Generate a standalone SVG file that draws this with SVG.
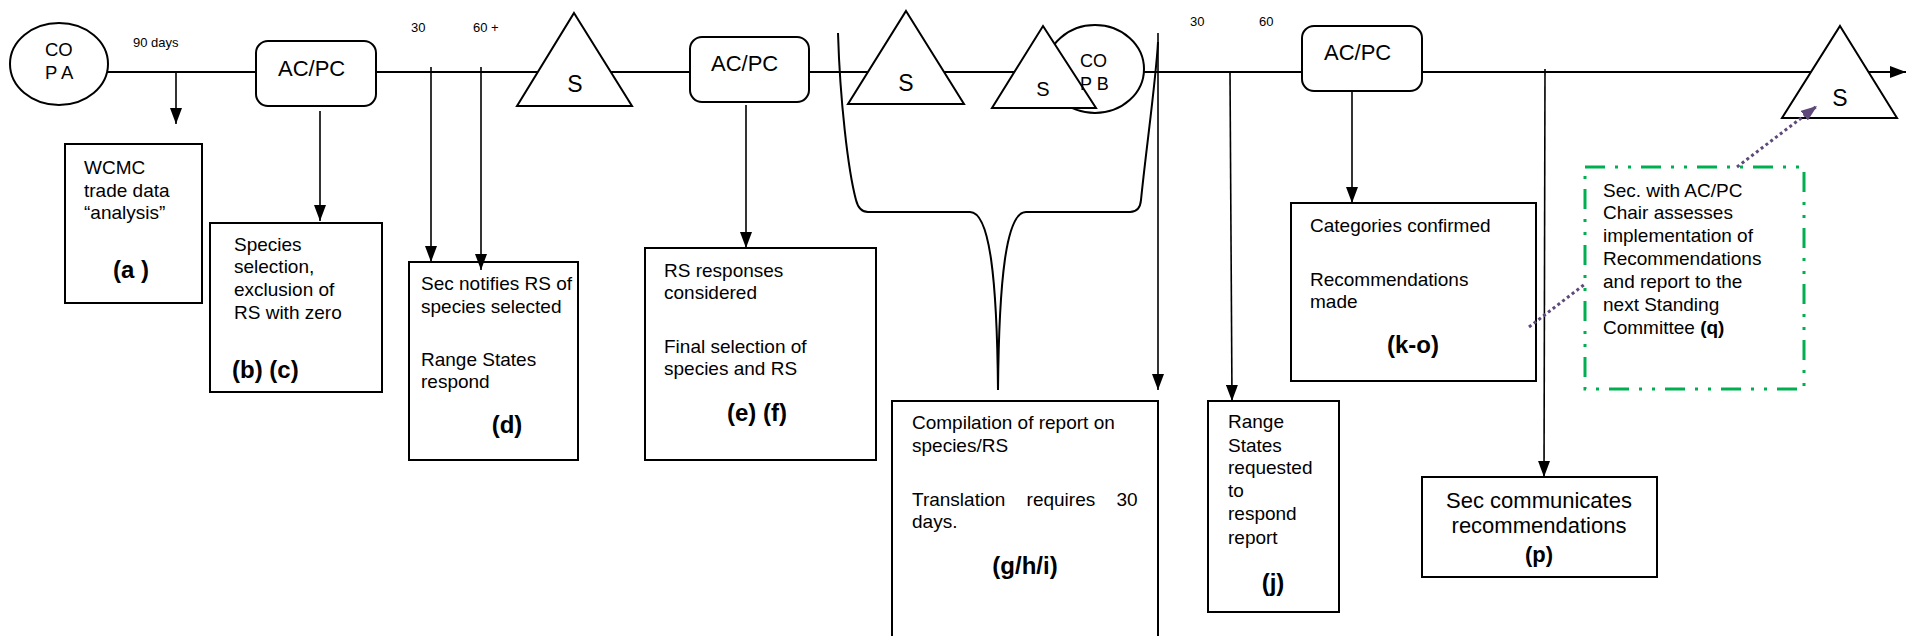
<svg xmlns="http://www.w3.org/2000/svg" width="1908" height="636" viewBox="0 0 1908 636">
<defs>
<marker id="ah" viewBox="0 0 16 12" markerWidth="16" markerHeight="12" refX="16" refY="6" orient="auto" markerUnits="userSpaceOnUse"><path d="M0,0 L16,6 L0,12 z" fill="#000"/></marker>
<marker id="ahp" viewBox="0 0 16 12" markerWidth="16" markerHeight="12" refX="16" refY="6" orient="auto" markerUnits="userSpaceOnUse"><path d="M0,0 L16,6 L0,12 z" fill="#5F497A"/></marker>
<style>
text{font-family:"Liberation Sans",Arial,sans-serif;fill:#000}
.box{fill:#fff;stroke:#000;stroke-width:2}
.t{font-size:19px}
.b{font-size:24px;font-weight:bold}
.sm{font-size:13px}
.ac{font-size:22px}
.s{font-size:23px;text-anchor:middle}
.c{stroke:#000;stroke-width:1.6;fill:none}
.main{stroke:#000;stroke-width:2;fill:none}
.mid{text-anchor:middle}
.pur{stroke:#5F497A;stroke-width:3;stroke-dasharray:3 3;fill:none}
.grn{fill:#fff;stroke:#00B050;stroke-width:3;stroke-dasharray:20 10 3 10 3 10}
</style>
</defs>
<rect width="1908" height="636" fill="#fff"/>

<g id="copA">
<ellipse class="box" cx="59" cy="64" rx="49" ry="41"/>
<text class="t" style="font-size:18.5px" x="45" y="56">CO</text>
<text class="t" style="font-size:18.5px" x="45" y="79">P A</text>
</g>
<g id="wcmc">
<rect class="box" x="65" y="144" width="137" height="159"/>
<text class="t" x="84" y="174">WCMC</text>
<text class="t" x="84" y="197">trade data</text>
<text class="t" x="84" y="219">“analysis”</text>
<text class="b" x="113" y="278">(a )</text>
</g>
<g id="acpc1">
<rect class="box" x="256" y="41" width="120" height="65" rx="12"/>
<text class="ac" x="278" y="76">AC/PC</text>
</g>
<g id="species">
<rect class="box" x="210" y="223" width="172" height="169"/>
<text class="t" x="234" y="251">Species</text>
<text class="t" x="234" y="273">selection,</text>
<text class="t" x="234" y="296">exclusion of</text>
<text class="t" x="234" y="319">RS with zero</text>
<text class="b" x="232" y="378">(b) (c)</text>
</g>
<g id="secNotifies">
<rect class="box" x="409" y="262" width="169" height="198"/>
<text class="t" x="421" y="290">Sec notifies RS of</text>
<text class="t" x="421" y="313">species selected</text>
<text class="t" x="421" y="366">Range States</text>
<text class="t" x="421" y="388">respond</text>
<text class="b mid" x="507" y="433">(d)</text>
</g>
<g id="s1">
<polygon class="box" points="574,13 632,106 517,106"/>
<text class="s" x="575" y="92">S</text>
</g>
<g id="acpc2">
<rect class="box" x="690" y="37" width="119" height="65" rx="12"/>
<text class="ac" x="711" y="71">AC/PC</text>
</g>
<g id="rsResponses">
<rect class="box" x="645" y="248" width="231" height="212"/>
<text class="t" x="664" y="277">RS responses</text>
<text class="t" x="664" y="299">considered</text>
<text class="t" x="664" y="353">Final selection of</text>
<text class="t" x="664" y="375">species and RS</text>
<text class="b" x="727" y="421">(e) (f)</text>
</g>
<g id="s2">
<polygon class="box" points="906,11 964,104 848,104"/>
<text class="s" x="906" y="91">S</text>
</g>
<g id="copB">
<ellipse class="box" cx="1095" cy="69" rx="49" ry="44"/>
<polygon class="box" points="1043,26 1096,108 992,108"/>
<text class="s" style="font-size:20px" x="1043" y="96">S</text>
<text class="t" style="font-size:18px" x="1080" y="67">CO</text>
<text class="t" style="font-size:18px" x="1080" y="90">P B</text>
</g>
<g id="compilation">
<rect class="box" x="892" y="401" width="266" height="245"/>
<text class="t" x="912" y="429">Compilation of report on</text>
<text class="t" x="912" y="452">species/RS</text>
<text class="t" x="912" y="506" word-spacing="16">Translation requires 30</text>
<text class="t" x="912" y="528">days.</text>
<text class="b mid" x="1025" y="574">(g/h/i)</text>
</g>
<g id="rangeStates">
<rect class="box" x="1208" y="401" width="131" height="211"/>
<text class="t" x="1228" y="428">Range</text>
<text class="t" x="1228" y="452">States</text>
<text class="t" x="1228" y="474">requested</text>
<text class="t" x="1228" y="497">to</text>
<text class="t" x="1228" y="520">respond</text>
<text class="t" x="1228" y="544">report</text>
<text class="b mid" x="1273" y="591">(j)</text>
</g>
<g id="acpc3">
<rect class="box" x="1302" y="26" width="120" height="65" rx="12"/>
<text class="ac" x="1324" y="60">AC/PC</text>
</g>
<g id="categories">
<rect class="box" x="1291" y="203" width="245" height="178"/>
<text class="t" x="1310" y="232">Categories confirmed</text>
<text class="t" x="1310" y="286">Recommendations</text>
<text class="t" x="1310" y="308">made</text>
<text class="b mid" x="1413" y="353">(k-o)</text>
</g>
<g id="secCommunicates">
<rect class="box" x="1422" y="477" width="235" height="100"/>
<text class="t mid" style="font-size:22px" x="1539" y="508">Sec communicates</text>
<text class="t mid" style="font-size:22px" x="1539" y="533">recommendations</text>
<text class="b mid" style="font-size:22px" x="1539" y="562">(p)</text>
</g>
<g id="secAssesses">
<rect class="grn" x="1585" y="167" width="219" height="222"/>
<text class="t" x="1603" y="197">Sec. with AC/PC</text>
<text class="t" x="1603" y="219">Chair assesses</text>
<text class="t" x="1603" y="242">implementation of</text>
<text class="t" x="1603" y="265">Recommendations</text>
<text class="t" x="1603" y="288">and report to the</text>
<text class="t" x="1603" y="311">next Standing</text>
<text class="t" x="1603" y="334">Committee <tspan font-weight="bold">(q)</tspan></text>
</g>
<g id="s4">
<polygon class="box" points="1840,26 1897,118 1782,118"/>
<text class="s" x="1840" y="106">S</text>
</g>
<g id="labels">
<text class="sm" x="133" y="47">90 days</text>
<text class="sm" x="411" y="32">30</text>
<text class="sm" x="473" y="32">60 +</text>
<text class="sm" x="1190" y="26">30</text>
<text class="sm" x="1259" y="26">60</text>
</g>

<g id="connectors">
<path class="main" d="M107,72 H256 M376,72 H538 M611,72 H690 M809,72 H868 M944,72 H1014 M1144,72 H1302 M1422,72 H1811"/>
<path class="main" d="M1868,72 H1906" marker-end="url(#ah)"/>
<path class="c" d="M176,72 V124" marker-end="url(#ah)"/>
<path class="c" d="M320,111 V221" marker-end="url(#ah)"/>
<path class="c" d="M431,67 V262" marker-end="url(#ah)"/>
<path class="c" d="M481,67 V270" marker-end="url(#ah)"/>
<path class="c" d="M746,105 V248" marker-end="url(#ah)"/>
<path class="main" d="M838,33 C840,100 848,170 856,200 Q859,212 868,212 L970,212 C990,212 997,280 998,390 C999,280 1006,212 1026,212 L1130,212 Q1140,212 1141,200 C1146,150 1156,80 1158,42"/>
<path class="c" d="M1158,33 V390" marker-end="url(#ah)"/>
<path class="c" d="M1230,72 L1232,401" marker-end="url(#ah)"/>
<path class="c" d="M1352,91 V203" marker-end="url(#ah)"/>
<path class="c" d="M1545,69 L1544,477" marker-end="url(#ah)"/>
<path class="pur" d="M1529,327 L1585,284"/>
<path class="pur" d="M1737,167 L1817,106" marker-end="url(#ahp)"/>
</g>
</svg>
